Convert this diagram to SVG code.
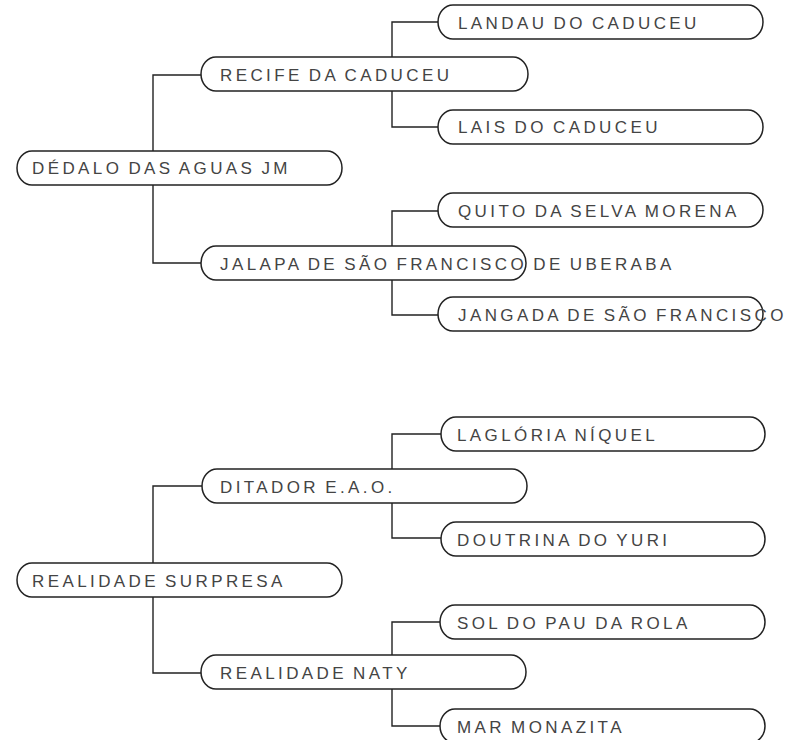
<svg xmlns="http://www.w3.org/2000/svg" width="787" height="740" viewBox="0 0 787 740">
<style>
.box{fill:#fff;stroke:#222;stroke-width:1.5}
.lnk{fill:none;stroke:#222;stroke-width:1.4}
text{font-family:"Liberation Sans",Arial,sans-serif;font-size:17px;letter-spacing:3.4px;word-spacing:-2px;fill:#444}
</style>
<rect width="787" height="740" fill="#fff"/>
<g id="connectors">
<path class="lnk" d="M153,151 V75 H201 M153,185 V263 H201"/>
<path class="lnk" d="M392,57 V22 H438 M392,91 V127 H438"/>
<path class="lnk" d="M392,246 V211 H438 M392,280 V315 H438"/>
<path class="lnk" d="M153,563 V486 H202 M153,597 V673 H201"/>
<path class="lnk" d="M392,469 V434 H441 M392,503 V538 H441"/>
<path class="lnk" d="M392,655 V622 H440 M392,689 V726 H440"/>
</g>
<g id="n-dedalo"><path class="box" d="M32,151 H327 A15,17 0 0 1 327,185 H32 A15,17 0 0 1 32,151 Z"/><text x="32" y="174">DÉDALO DAS AGUAS JM</text></g>
<g id="n-recife"><path class="box" d="M216,57 H513 A15,17 0 0 1 513,91 H216 A15,17 0 0 1 216,57 Z"/><text x="220" y="81">RECIFE DA CADUCEU</text></g>
<g id="n-landau"><path class="box" d="M453,5 H748 A15,17 0 0 1 748,39 H453 A15,17 0 0 1 453,5 Z"/><text x="458" y="29">LANDAU DO CADUCEU</text></g>
<g id="n-lais"><path class="box" d="M453,110 H748 A15,17 0 0 1 748,144 H453 A15,17 0 0 1 453,110 Z"/><text x="458" y="133">LAIS DO CADUCEU</text></g>
<g id="n-jalapa"><path class="box" d="M216,246 H511 A15,17 0 0 1 511,280 H216 A15,17 0 0 1 216,246 Z"/><text x="220" y="270">JALAPA DE SÃO FRANCISCO DE UBERABA</text></g>
<g id="n-quito"><path class="box" d="M453,193 H748 A15,17 0 0 1 748,227 H453 A15,17 0 0 1 453,193 Z"/><text x="458" y="216.5">QUITO DA SELVA MORENA</text></g>
<g id="n-jangada"><path class="box" d="M453,297 H748 A15,17 0 0 1 748,331 H453 A15,17 0 0 1 453,297 Z"/><text x="458" y="320.5">JANGADA DE SÃO FRANCISCO</text></g>
<g id="n-realidade"><path class="box" d="M32,563 H327 A15,17 0 0 1 327,597 H32 A15,17 0 0 1 32,563 Z"/><text x="32" y="586.5">REALIDADE SURPRESA</text></g>
<g id="n-ditador"><path class="box" d="M217,469 H512 A15,17 0 0 1 512,503 H217 A15,17 0 0 1 217,469 Z"/><text x="220" y="493">DITADOR E.A.O.</text></g>
<g id="n-lagloria"><path class="box" d="M456,417 H750 A15,17 0 0 1 750,451 H456 A15,17 0 0 1 456,417 Z"/><text x="457" y="440.5">LAGLÓRIA NÍQUEL</text></g>
<g id="n-doutrina"><path class="box" d="M456,522 H750 A15,17 0 0 1 750,556 H456 A15,17 0 0 1 456,522 Z"/><text x="457" y="545.5">DOUTRINA DO YURI</text></g>
<g id="n-naty"><path class="box" d="M216,655 H511 A15,17 0 0 1 511,689 H216 A15,17 0 0 1 216,655 Z"/><text x="220" y="679">REALIDADE NATY</text></g>
<g id="n-sol"><path class="box" d="M455,605 H750 A15,17 0 0 1 750,639 H455 A15,17 0 0 1 455,605 Z"/><text x="457" y="628.5">SOL DO PAU DA ROLA</text></g>
<g id="n-mar"><path class="box" d="M455,709 H750 A15,17 0 0 1 750,743 H455 A15,17 0 0 1 455,709 Z"/><text x="457" y="732.5">MAR MONAZITA</text></g>
</svg>
